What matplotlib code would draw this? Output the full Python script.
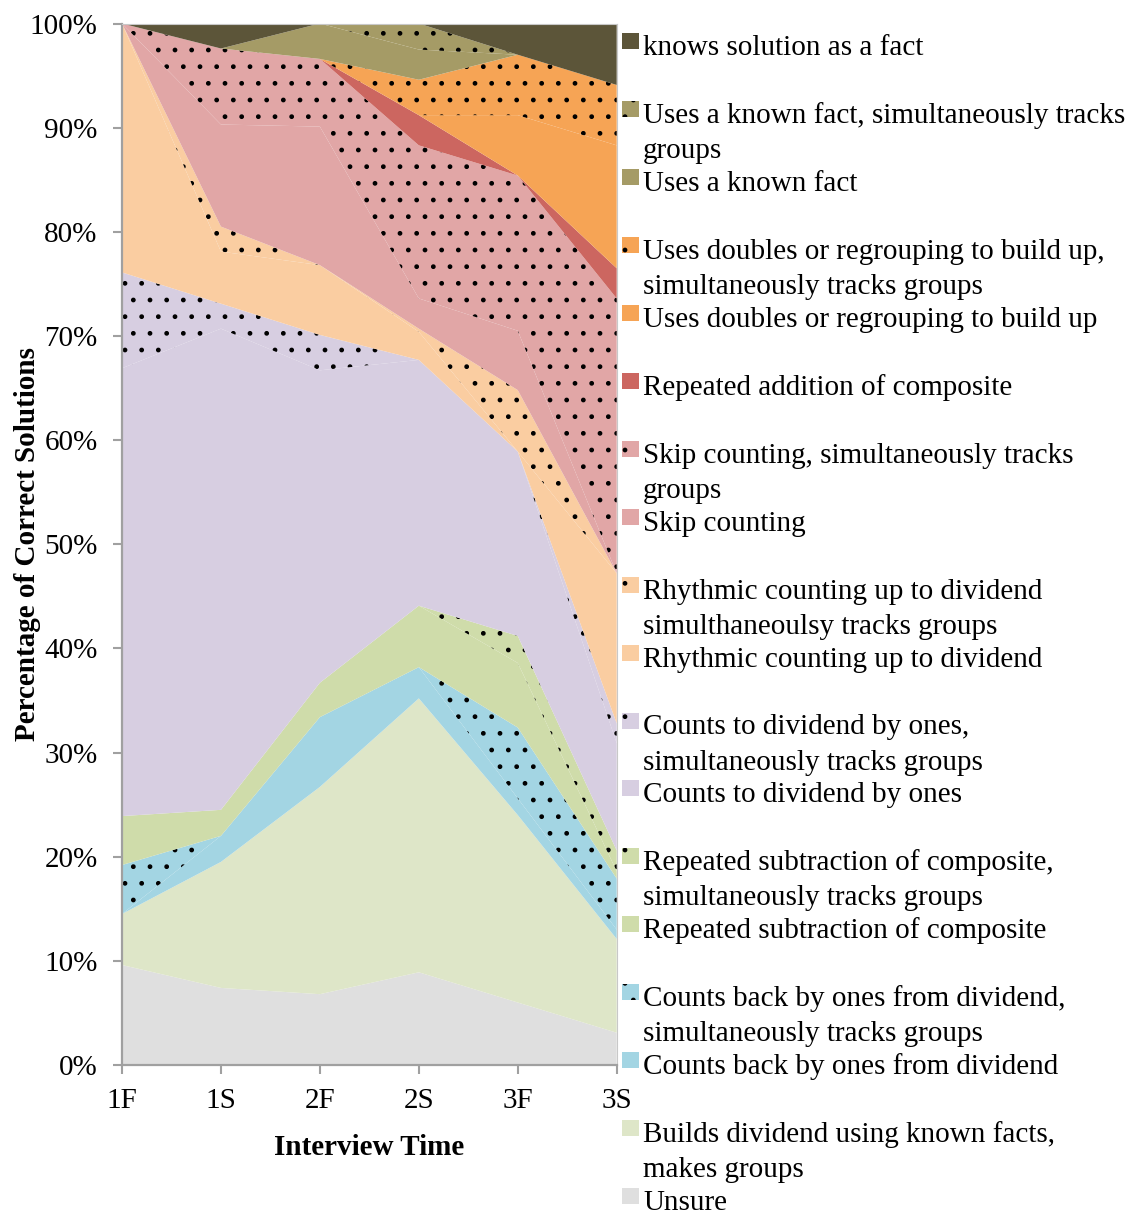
import matplotlib
matplotlib.use("Agg")
import matplotlib.pyplot as plt
from matplotlib.patches import Rectangle
from matplotlib.ticker import PercentFormatter

plt.rcParams['font.family'] = ['Liberation Serif', 'DejaVu Serif']
plt.rcParams['hatch.linewidth'] = 1.0

# ---------------- data ----------------
times = ["1F", "1S", "2F", "2S", "3F", "3S"]

unsure          = [9.6, 7.4, 6.8, 8.9, 6.0, 3.1]
builds          = [4.9, 12.1, 19.9, 26.3, 18.0, 9.0]
counts_back     = [0.0, 2.5, 6.7, 3.0, 1.6, 0.9]
counts_back_s   = [4.7, 0.0, 0.0, 0.0, 6.8, 4.9]
rep_sub         = [4.7, 2.5, 3.3, 5.9, 6.2, 0.7]
rep_sub_s       = [0.0, 0.0, 0.0, 0.0, 2.6, 2.0]
counts_to       = [43.0, 46.2, 30.0, 23.6, 17.7, 10.3]
counts_to_s     = [9.2, 2.4, 3.4, 0.0, 0.0, 1.9]
rhythmic        = [23.9, 5.0, 6.7, 2.7, 0.0, 14.4]
rhythmic_s      = [0.0, 2.4, 0.0, 0.3, 5.9, 0.0]
skip            = [0.0, 9.8, 13.3, 2.9, 5.7, 0.0]
skip_s          = [0.0, 7.3, 6.5, 14.7, 14.9, 26.4]
rep_add         = [0.0, 0.0, 0.0, 2.9, 0.0, 2.9]
doubles         = [0.0, 0.0, 0.0, 0.0, 5.8, 11.8]
doubles_s       = [0.0, 0.0, 0.0, 3.4, 5.8, 5.8]
known_fact      = [0.0, 0.0, 3.4, 2.9, 0.0, 0.0]
known_fact_s    = [0.0, 0.0, 0.0, 2.5, 0.0, 0.0]
knows           = [0.0, 2.4, 0.0, 0.0, 3.0, 5.9]

series = [unsure, builds, counts_back, counts_back_s, rep_sub, rep_sub_s,
          counts_to, counts_to_s, rhythmic, rhythmic_s, skip, skip_s,
          rep_add, doubles, doubles_s, known_fact, known_fact_s, knows]

labels = [
    "Unsure",
    "Builds dividend using known facts,\nmakes groups",
    "Counts back by ones from dividend",
    "Counts back by ones from dividend,\nsimultaneously tracks groups",
    "Repeated subtraction of composite",
    "Repeated subtraction of composite,\nsimultaneously tracks groups",
    "Counts to dividend by ones",
    "Counts to dividend by ones,\nsimultaneously tracks groups",
    "Rhythmic counting up to dividend",
    "Rhythmic counting up to dividend\nsimulthaneoulsy tracks groups",
    "Skip counting",
    "Skip counting, simultaneously tracks\ngroups",
    "Repeated addition of composite",
    "Uses doubles or regrouping to build up",
    "Uses doubles or regrouping to build up,\nsimultaneously tracks groups",
    "Uses a known fact",
    "Uses a known fact, simultaneously tracks\ngroups",
    "knows solution as a fact",
]

colors = ["#DFDFDF", "#DEE6C8", "#A3D5E3", "#A3D5E3", "#CFDCAA", "#CFDCAA",
          "#D7CEE1", "#D7CEE1", "#FACDA1", "#FACDA1", "#E1A6A6", "#E1A6A6",
          "#CC6660", "#F6A455", "#F6A455", "#A59B66", "#A59B66", "#5C5539"]
dotted = [False, False, False, True, False, True, False, True, False, True,
          False, True, False, False, True, False, True, False]

# ---------------- figure ----------------
W, H = 1132, 1218
fig = plt.figure(figsize=(W / 100, H / 100), dpi=100)

def fx(x):
    return x / W

def fy(y):
    return 1 - y / H

ax_l, ax_r, ax_t, ax_b = 122, 616.7, 23.5, 1065
ax = fig.add_axes([fx(ax_l), fy(ax_b), fx(ax_r) - fx(ax_l), fy(ax_t) - fy(ax_b)])

x = list(range(len(times)))
polys = ax.stackplot(x, *series, colors=colors, linewidth=0)
for poly, d in zip(polys, dotted):
    poly.set_linewidth(0)
    if d:
        poly.set_edgecolor("black")
        poly.set_linewidth(0)
        poly.set_hatch(".")

ax.set_xlim(0, len(times) - 1)
ax.set_ylim(0, 100)
ax.set_xticks(x)
ax.set_xticklabels(times)
ax.set_yticks(range(0, 101, 10))
ax.yaxis.set_major_formatter(PercentFormatter(decimals=0))

ax.tick_params(axis="both", labelsize=21, color="#A0A0A0", width=1.5,
               length=6.5, direction="out")
ax.tick_params(axis="y", pad=11)
ax.tick_params(axis="x", pad=10)

for s in ["left", "bottom"]:
    ax.spines[s].set_color("#A0A0A0")
    ax.spines[s].set_linewidth(1.6)
for s in ["top", "right"]:
    ax.spines[s].set_color("#C8C8C8")
    ax.spines[s].set_linewidth(0.8)

ax.set_ylabel("Percentage of Correct Solutions", fontsize=21, fontweight="bold")
ax.set_xlabel("Interview Time", fontsize=21, fontweight="bold")
ax.yaxis.set_label_coords(-0.192, 0.5)
ax.yaxis.label.set_va("center")
ax.xaxis.set_label_coords(0.5, -0.079)
ax.xaxis.label.set_va("center")

# ---------------- legend (manual, Excel-like) ----------------
n = len(labels)
step = 67.95
for i in range(n):
    idx = n - 1 - i  # top entry = last series
    base = 55 + step * i
    rect = Rectangle((fx(622), fy(base - 6)), fx(17), 16 / H,
                     transform=fig.transFigure, facecolor=colors[idx],
                     edgecolor="black" if dotted[idx] else "none",
                     linewidth=0, hatch="." if dotted[idx] else None)
    fig.patches.append(rect)
    for j, line in enumerate(labels[idx].split("\n")):
        fig.text(fx(643), fy(base + 35 * j), line, fontsize=21,
                 ha="left", va="baseline")

fig.savefig("out.png", dpi=100)
